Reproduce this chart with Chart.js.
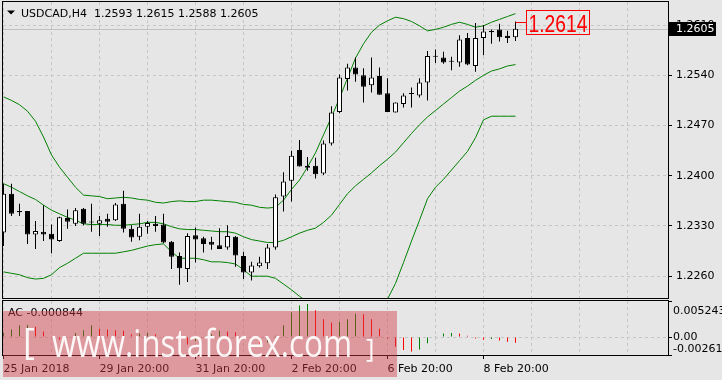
<!DOCTYPE html>
<html>
<head>
<meta charset="utf-8">
<script src="https://cdn.jsdelivr.net/npm/chart.js@4.4.1/dist/chart.umd.min.js"></script>
<style>
  html, body { margin: 0; padding: 0; background: #e6e6e6; }
  #wrap { position: relative; width: 722px; height: 380px; overflow: hidden; background: #e6e6e6; }
  canvas { position: absolute; left: 0; }
  #main { top: 0; }
  #ac { top: 300px; }
</style>
</head>
<body>
<div id="wrap">
  <canvas id="main" width="722" height="300"></canvas>
  <canvas id="ac" width="722" height="80"></canvas>
</div>
<script>
// ---- USDCAD H4 candles ----
const opens = [1.2321, 1.2375, 1.2351, 1.2351, 1.2318, 1.2322, 1.2319, 1.2309, 1.2341, 1.2333,
  1.2354, 1.2335, 1.2333, 1.2340, 1.2338, 1.2361, 1.2326, 1.2315, 1.2329, 1.2333,
  1.2332, 1.2308, 1.2288, 1.2270, 1.2317, 1.2313, 1.2308, 1.2303, 1.2300, 1.2315,
  1.2288, 1.2265, 1.2274, 1.2278, 1.2300, 1.2371, 1.2393, 1.2436, 1.2414, 1.2414,
  1.2403, 1.2445, 1.2489, 1.2535, 1.2551, 1.2540, 1.2526, 1.2539, 1.2515, 1.2488,
  1.2500, 1.2514, 1.2512, 1.2530, 1.2566, 1.2565, 1.2559, 1.2558, 1.2592, 1.2553,
  1.2592, 1.2600, 1.2604, 1.2595, 1.2593];
const highs = [1.2389, 1.2389, 1.2361, 1.2351, 1.2337, 1.2359, 1.2332, 1.2343, 1.2353, 1.2355,
  1.2355, 1.2361, 1.2344, 1.2347, 1.2362, 1.2379, 1.2331, 1.2347, 1.2337, 1.2344,
  1.2347, 1.2309, 1.2293, 1.2320, 1.2328, 1.2315, 1.2315, 1.2327, 1.2331, 1.2316,
  1.2294, 1.2280, 1.2287, 1.2305, 1.2374, 1.2405, 1.2435, 1.2450, 1.2426, 1.2425,
  1.2449, 1.2497, 1.2541, 1.2556, 1.2565, 1.2550, 1.2565, 1.2551, 1.2536, 1.2502,
  1.2515, 1.2523, 1.2536, 1.2574, 1.2576, 1.2573, 1.2566, 1.2596, 1.2599, 1.2613,
  1.2610, 1.2604, 1.2612, 1.2602, 1.2615];
const lows = [1.2302, 1.2344, 1.2344, 1.2305, 1.2298, 1.2309, 1.2292, 1.2308, 1.2326, 1.2330,
  1.2331, 1.2322, 1.2316, 1.2329, 1.2337, 1.2321, 1.2308, 1.2310, 1.2319, 1.2322,
  1.2306, 1.2270, 1.2248, 1.2252, 1.2279, 1.2293, 1.2297, 1.2298, 1.2297, 1.2273,
  1.2256, 1.2254, 1.2272, 1.2270, 1.2297, 1.2350, 1.2364, 1.2413, 1.2407, 1.2396,
  1.2401, 1.2442, 1.2487, 1.2519, 1.2531, 1.2502, 1.2516, 1.2513, 1.2489, 1.2488,
  1.2495, 1.2495, 1.2509, 1.2505, 1.2557, 1.2556, 1.2547, 1.2552, 1.2554, 1.2545,
  1.2568, 1.2584, 1.2587, 1.2585, 1.2588];
const closes = [1.2375, 1.2347, 1.2349, 1.2318, 1.2323, 1.2318, 1.2311, 1.2342, 1.2336, 1.2352,
  1.2333, 1.2335, 1.2338, 1.2336, 1.2360, 1.2326, 1.2314, 1.2329, 1.2334, 1.2330,
  1.2307, 1.2287, 1.2271, 1.2316, 1.2311, 1.2305, 1.2304, 1.2298, 1.2316, 1.2289,
  1.2265, 1.2275, 1.2279, 1.2300, 1.2370, 1.2392, 1.2428, 1.2413, 1.2411, 1.2402,
  1.2445, 1.2488, 1.2537, 1.2551, 1.2541, 1.2524, 1.2537, 1.2513, 1.2489, 1.2502,
  1.2512, 1.2514, 1.2530, 1.2567, 1.2566, 1.2558, 1.2559, 1.2590, 1.2555, 1.2592,
  1.2601, 1.2602, 1.2593, 1.2592, 1.2605];

// ---- Bollinger bands ----
const bbUpper = [1.2510, 1.2505, 1.2499, 1.2490, 1.2476, 1.2454, 1.2429, 1.2412, 1.2398, 1.2384,
  1.2373, 1.2372, 1.2371, 1.2368, 1.2369, 1.2370, 1.2369, 1.2367, 1.2366, 1.2363,
  1.2362, 1.2364, 1.2365, 1.2364, 1.2364, 1.2366, 1.2366, 1.2365, 1.2364, 1.2363,
  1.2360, 1.2359, 1.2356, 1.2355, 1.2356, 1.2366, 1.2381, 1.2394, 1.2412, 1.2432,
  1.2457, 1.2482, 1.2508, 1.2536, 1.2564, 1.2584, 1.2600, 1.2610, 1.2616, 1.2621,
  1.2619, 1.2615, 1.2609, 1.2602, 1.2604, 1.2607, 1.2611, 1.2614, 1.2611, 1.2607,
  1.2609, 1.2614, 1.2618, 1.2622, 1.2626];
const bbMiddle = [1.2389, 1.2384, 1.2378, 1.2372, 1.2367, 1.2359, 1.2352, 1.2347, 1.2342, 1.2338,
  1.2333, 1.2332, 1.2332, 1.2332, 1.2331, 1.2331, 1.2332, 1.2333, 1.2335, 1.2335,
  1.2333, 1.2329, 1.2326, 1.2325, 1.2325, 1.2324, 1.2323, 1.2322, 1.2322, 1.2320,
  1.2315, 1.2311, 1.2309, 1.2307, 1.2307, 1.2310, 1.2315, 1.2320, 1.2324, 1.2327,
  1.2335, 1.2345, 1.2360, 1.2375, 1.2386, 1.2395, 1.2404, 1.2414, 1.2423, 1.2433,
  1.2446, 1.2459, 1.2471, 1.2482, 1.2491, 1.2500, 1.2509, 1.2518, 1.2525, 1.2533,
  1.2540, 1.2546, 1.2549, 1.2553, 1.2555];
const bbLower = [1.2266, 1.2264, 1.2262, 1.2258, 1.2256, 1.2257, 1.2262, 1.2272, 1.2278, 1.2285,
  1.2292, 1.2292, 1.2292, 1.2292, 1.2292, 1.2294, 1.2296, 1.2299, 1.2302, 1.2304,
  1.2305, 1.2294, 1.2285, 1.2285, 1.2285, 1.2283, 1.2280, 1.2280, 1.2279, 1.2277,
  1.2269, 1.2260, 1.2260, 1.2260, 1.2257, 1.2249, 1.2241, 1.2232, 1.2224, 1.2216,
  1.2209, 1.2202, 1.2196, 1.2193, 1.2192, 1.2195, 1.2202, 1.2213, 1.2228, 1.2250,
  1.2279, 1.2309, 1.2338, 1.2368, 1.2384, 1.2395, 1.2408, 1.2421, 1.2434, 1.2453,
  1.2478, 1.2483, 1.2483, 1.2483, 1.2483];

// ---- Accelerator oscillator ----
const acValues = [0.0006, 0.0011, 0.0017, 0.0018, 0.0015, 0.0008, 0.0001, -0.0004, -0.0001, 0.0006,
  0.0010, 0.0017, 0.0012, 0.0011, 0.0010, 0.0009, 0.0004, 0.0005, 0.0006, 0.0004,
  0.0001, -0.0003, -0.0008, -0.0011, -0.0006, -0.0001, 0.0004, 0.0009, 0.0008, 0.0007,
  0.0001, -0.0004, -0.0011, -0.0008, 0.0002, 0.0017, 0.0036, 0.0046, 0.0048, 0.0039,
  0.0026, 0.0021, 0.0022, 0.0026, 0.0034, 0.0033, 0.0026, 0.0012, -0.0002, -0.0014,
  -0.0019, -0.0021, -0.0018, -0.0009, 0.00005, 0.0005, 0.0006, 0.0005, 0.0002, -0.0002,
  -0.0004, -0.0003, -0.0005, -0.0007, -0.000844];

// ---- axes ----
const priceTicks = [1.2260, 1.2330, 1.2400, 1.2470, 1.2540, 1.2610];
const priceMin = 1.22296;
const priceMax = 1.26422;
const acTicks = [-0.00261, 0, 0.005243];
const acTickLabels = ["-0.00261", "0.00", "0.005243"];
const gridIdx = [0, 6, 12, 18, 24, 30, 36, 42, 48, 54, 60, 66, 72, 78];
const dateIdx = [0, 12, 24, 36, 48, 60];
const dateLabels = ["25 Jan 2018", "29 Jan 20:00", "31 Jan 20:00", "2 Feb 20:00", "6 Feb 20:00", "8 Feb 20:00"];

const symbolTitle = "USDCAD,H4  1.2593 1.2615 1.2588 1.2605";
const bidPrice = 1.2605;
const markPrice = 1.2614;
const wmText = "www.instaforex.com";

const xMin = -0.0625;
const xMax = 83.0625;

Chart.defaults.font.family = '"DejaVu Sans", sans-serif';
Chart.defaults.font.size = 11;
Chart.defaults.color = "#000";

const gridColor = "#c6c6c6";

// ---- datasets ----
const idx = opens.map((_, i) => i);
const wicks = idx.map(i => ({ x: i, y: [lows[i], highs[i]] }));
const bodies = idx.map(i => ({ x: i, y: [opens[i], closes[i]] }));
const bodyColors = idx.map(i => (closes[i] > opens[i] ? "#ffffff" : "#000000"));
const band = arr => arr.map((v, i) => ({ x: i, y: v }));
const acData = acValues.map((v, i) => ({ x: i, y: v }));
const acColors = acValues.map((v, i) => (i === 0 || v > acValues[i - 1] ? "#008000" : "#ff0000"));

// no label padding, plot area must reach the frame
const fitY = s => { s.width = 54; s.paddingTop = 0; s.paddingBottom = 0; };
const fitX = h => s => { s.height = h; s.paddingLeft = 0; s.paddingRight = 0; };

// ---- main window decorations ----
const mainDecor = {
  id: "mainDecor",
  beforeDatasetsDraw(chart) {
    const { ctx, chartArea: a, scales: { y } } = chart;
    const by = Math.round(y.getPixelForValue(bidPrice)) + 0.5;
    ctx.save();
    ctx.strokeStyle = "#c0c0c0";
    ctx.lineWidth = 1;
    ctx.beginPath();
    ctx.moveTo(a.left, by);
    ctx.lineTo(a.right, by);
    ctx.stroke();
    ctx.restore();
  },
  afterDraw(chart) {
    const { ctx, chartArea: a, scales: { x, y } } = chart;
    ctx.save();
    ctx.strokeStyle = "#000";
    ctx.lineWidth = 1;
    ctx.strokeRect(a.left - 0.5, a.top - 0.5, a.right - a.left + 1, a.bottom - a.top + 1);

    // title
    ctx.fillStyle = "#000";
    ctx.beginPath();
    ctx.moveTo(7, 10.5);
    ctx.lineTo(15, 10.5);
    ctx.lineTo(11, 14.5);
    ctx.closePath();
    ctx.fill();
    ctx.font = '11px "DejaVu Sans"';
    ctx.textBaseline = "alphabetic";
    ctx.fillText(symbolTitle, 21, 17);

    // bid price box
    const by = Math.round(y.getPixelForValue(bidPrice));
    ctx.fillRect(a.right + 1, by - 7, 47, 14);
    ctx.fillStyle = "#fff";
    ctx.textBaseline = "middle";
    ctx.fillText(bidPrice.toFixed(4), a.right + 8, by + 0.5);

    // red price label
    const ry = Math.round(y.getPixelForValue(markPrice)) + 0.5;
    const rx = x.getPixelForValue(opens.length - 1);
    ctx.strokeStyle = "#ff0000";
    ctx.fillStyle = "#ff0000";
    ctx.beginPath();
    ctx.moveTo(rx, ry);
    ctx.lineTo(rx + 11, ry);
    ctx.stroke();
    ctx.strokeRect(rx + 11, ry - 12, 63, 24);
    ctx.font = '24px "Liberation Sans Narrow", "Liberation Sans"';
    const tw = ctx.measureText(markPrice.toFixed(4)).width;
    ctx.translate(rx + 13, ry + 9);
    ctx.scale(59 / tw, 1);
    ctx.textBaseline = "alphabetic";
    ctx.fillText(markPrice.toFixed(4), 0, 0);
    ctx.restore();
  }
};

// ---- AC window decorations + watermark ----
const acDecor = {
  id: "acDecor",
  afterDraw(chart) {
    const { ctx, chartArea: a } = chart;
    ctx.save();
    ctx.strokeStyle = "#000";
    ctx.lineWidth = 1;
    ctx.strokeRect(a.left - 0.5, a.top - 0.5, a.right - a.left + 1, a.bottom - a.top + 1);
    ctx.fillStyle = "#000";
    ctx.font = '11px "DejaVu Sans"';
    ctx.textBaseline = "alphabetic";
    ctx.fillText("AC " + acValues[acValues.length - 1].toFixed(6), 8, 16);

    // watermark
    ctx.fillStyle = "rgba(210, 60, 70, 0.45)";
    ctx.fillRect(3, 11, 394, 66);
    ctx.fillStyle = "rgba(255, 255, 255, 0.93)";
    ctx.font = '38px "Open Sans"';
    const w = ctx.measureText(wmText).width;
    ctx.save();
    ctx.translate(52, 57);
    ctx.scale(300 / w, 1);
    ctx.fillText(wmText, 0, 0);
    ctx.restore();
    ctx.font = '36px "Open Sans"';
    ctx.fillText("[", 23, 54);
    ctx.font = '26px "Open Sans"';
    ctx.fillText("]", 366, 57);
    ctx.restore();
  }
};

// ---- main chart ----
new Chart(document.getElementById("main"), {
  type: "bar",
  data: {
    datasets: [
      { type: "bar", data: bodies, backgroundColor: bodyColors, borderColor: "#000", borderWidth: 1,
        borderSkipped: false, barThickness: 5, maxBarThickness: 5, grouped: false, minBarLength: 1,
        inflateAmount: 0, order: 0 },
      { type: "bar", data: wicks, backgroundColor: "#000", borderWidth: 0, barThickness: 1,
        maxBarThickness: 1, grouped: false, inflateAmount: 0, order: 1 },
      { type: "line", data: band(bbUpper), borderColor: "#008000", borderWidth: 1, pointRadius: 0, order: 2 },
      { type: "line", data: band(bbMiddle), borderColor: "#008000", borderWidth: 1, pointRadius: 0, order: 2 },
      { type: "line", data: band(bbLower), borderColor: "#008000", borderWidth: 1, pointRadius: 0, order: 2 }
    ]
  },
  options: {
    responsive: false,
    animation: false,
    events: [],
    layout: { padding: { left: 3, top: 2, right: 0, bottom: 2 } },
    plugins: { legend: { display: false }, tooltip: { enabled: false } },
    scales: {
      x: {
        type: "linear", min: xMin, max: xMax, offset: false,
        afterBuildTicks: s => { s.ticks = gridIdx.map(v => ({ value: v })); },
        afterFit: fitX(0),
        grid: { offset: false, color: gridColor, drawTicks: false },
        border: { display: false, dash: [3, 3] },
        ticks: { display: false }
      },
      y: {
        position: "right", min: priceMin, max: priceMax,
        afterBuildTicks: s => { s.ticks = priceTicks.map(v => ({ value: v })); },
        afterFit: fitY,
        grid: { color: gridColor, tickColor: "#000", tickLength: 4, tickBorderDash: [] },
        border: { display: false, dash: [3, 3] },
        ticks: { padding: 4, autoSkip: false, callback: v => Number(v).toFixed(4) }
      }
    }
  },
  plugins: [mainDecor]
});

// ---- AC chart ----
new Chart(document.getElementById("ac"), {
  type: "bar",
  data: {
    datasets: [
      { data: acData, backgroundColor: acColors, borderWidth: 0, barThickness: 1, maxBarThickness: 1, inflateAmount: 0 }
    ]
  },
  options: {
    responsive: false,
    animation: false,
    events: [],
    layout: { padding: { left: 3, top: 1, right: 0, bottom: 0 } },
    plugins: { legend: { display: false }, tooltip: { enabled: false } },
    scales: {
      x: {
        type: "linear", min: xMin, max: xMax, offset: false,
        afterBuildTicks: s => { s.ticks = gridIdx.map(v => ({ value: v })); },
        afterFit: fitX(25),
        grid: {
          offset: false, color: gridColor, tickLength: 4, tickBorderDash: [],
          tickColor: c => (c.tick && dateIdx.includes(c.tick.value) ? "#000" : "rgba(0,0,0,0)")
        },
        border: { display: false, dash: [3, 3] },
        ticks: {
          autoSkip: false, maxRotation: 0, minRotation: 0, align: "start", padding: 4,
          callback: v => { const i = dateIdx.indexOf(v); return i >= 0 ? dateLabels[i] : ""; }
        }
      },
      y: {
        position: "right", min: acTicks[0], max: acTicks[acTicks.length - 1],
        afterBuildTicks: s => { s.ticks = acTicks.map(v => ({ value: v })); },
        afterFit: fitY,
        grid: {
          color: c => (c.tick && c.tick.value === 0 ? gridColor : "rgba(0,0,0,0)"),
          tickColor: "#000", tickLength: 4, tickBorderDash: []
        },
        border: { display: false, dash: [3, 3] },
        ticks: {
          autoSkip: false, padding: 1,
          font: c => ({ size: 11, lineHeight: c.tick && c.tick.value === acTicks[0] ? 1.0 : 1.8 }),
          callback: v => {
            const i = acTicks.indexOf(v);
            const t = acTickLabels[i];
            if (i === 0) return [t, ""];
            if (i === acTicks.length - 1) return ["", t];
            return t;
          }
        }
      }
    }
  },
  plugins: [acDecor]
});
</script>
</body>
</html>
